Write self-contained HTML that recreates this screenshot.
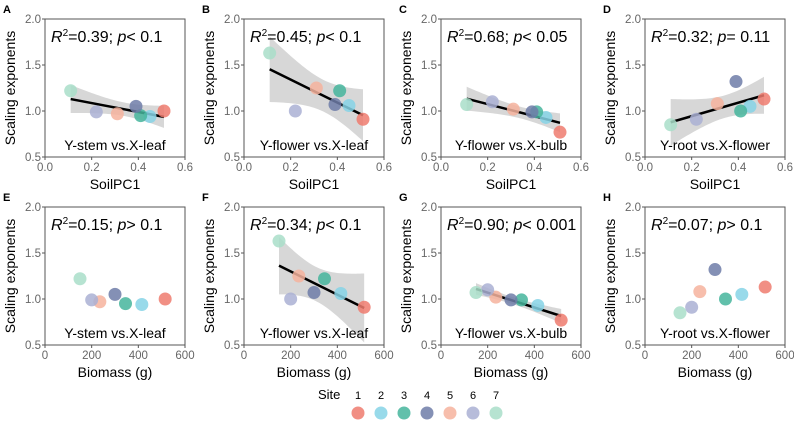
<!DOCTYPE html>
<html><head><meta charset="utf-8"><style>
body{margin:0;background:#fff;font-family:"Liberation Sans",Arial,sans-serif}
svg{display:block}
</style></head><body>
<svg id="c" width="794" height="422"></svg>
<script>
const sites=[1,2,3,4,5,6,7];
const siteColors=["#EE7B6E","#86D3E6","#45B59C","#6E7CA8","#F6B39E","#AAB0D3","#A9DEC9"];
const soilPC1=[0.51,0.45,0.41,0.39,0.31,0.22,0.11];
const biomass=[515,415,345,300,235,200,150];
const yStem=[1.0,0.94,0.95,1.05,0.97,0.99,1.22];
const yFlowerLeaf=[0.91,1.06,1.22,1.07,1.25,1.0,1.63];
const yFlowerBulb=[0.77,0.93,0.99,0.99,1.02,1.10,1.07];
const yRoot=[1.13,1.05,1.0,1.32,1.08,0.91,0.85];
const soilTicks=["0.0","0.2","0.4","0.6"];
const bioTicks=["0","200","400","600"];
const yTicks=["0.5","1.0","1.5","2.0"];
const panels=[
 {id:"A",col:0,row:0,xs:"soil",ys:yStem,stat:["0.39","p","< 0.1"],lab:"Y-stem vs.X-leaf",fit:true},
 {id:"B",col:1,row:0,xs:"soil",ys:yFlowerLeaf,stat:["0.45","p","< 0.1"],lab:"Y-flower vs.X-leaf",fit:true},
 {id:"C",col:2,row:0,xs:"soil",ys:yFlowerBulb,stat:["0.68","p","< 0.05"],lab:"Y-flower vs.X-bulb",fit:true},
 {id:"D",col:3,row:0,xs:"soil",ys:yRoot,stat:["0.32","p","= 0.11"],lab:"Y-root vs.X-flower",fit:true},
 {id:"E",col:0,row:1,xs:"bio",ys:yStem,stat:["0.15","p","> 0.1"],lab:"Y-stem vs.X-leaf",fit:false},
 {id:"F",col:1,row:1,xs:"bio",ys:yFlowerLeaf,stat:["0.34","p","< 0.1"],lab:"Y-flower vs.X-leaf",fit:true},
 {id:"G",col:2,row:1,xs:"bio",ys:yFlowerBulb,stat:["0.90","p","< 0.001"],lab:"Y-flower vs.X-bulb",fit:true},
 {id:"H",col:3,row:1,xs:"bio",ys:yRoot,stat:["0.07","p","> 0.1"],lab:"Y-root vs.X-flower",fit:false}
];
const colX=[45,244,441,645], rowY=[19,207], W=140, H=138;
const NS="http://www.w3.org/2000/svg";
const svg=document.getElementById("c");
function mk(t,a,p){const e=document.createElementNS(NS,t);for(const k in a)e.setAttribute(k,a[k]);(p||svg).appendChild(e);return e;}
panels.forEach(P=>{
 const x0=colX[P.col],y0=rowY[P.row];
 const g=mk("g",{});
 
 
 const xv=P.xs==="soil"?soilPC1:biomass;
 const xmax=P.xs==="soil"?0.6:600;
 const sx=v=>x0+v/xmax*W;
 const sy=v=>y0+H-(v-0.5)/1.5*H;
 const lt=mk("text",{x:colX[P.col]-42,y:y0-6,"font-size":11,"font-weight":"bold",fill:"#000"},g);lt.textContent=P.id;
 
 const fr=mk("rect",{x:x0,y:y0,width:W,height:H,fill:"#fff",stroke:"#555","stroke-width":1},g);
 
 yTicks.forEach(t=>{const v=parseFloat(t),y=sy(v);
  mk("line",{x1:x0-3,x2:x0,y1:y,y2:y,stroke:"#555"},g);
  const tx=mk("text",{x:x0-4,y:y+4,"font-size":11.5,fill:"#666","text-anchor":"end"},g);tx.textContent=t;
  });
 (P.xs==="soil"?soilTicks:bioTicks).forEach(t=>{const x=sx(parseFloat(t));
  mk("line",{x1:x,x2:x,y1:y0+H,y2:y0+H+3,stroke:"#555"},g);
  const tx=mk("text",{x:x,y:y0+H+14,"font-size":11.5,fill:"#666","text-anchor":"middle"},g);tx.textContent=t;
  });
 const yt=mk("text",{x:0,y:0,"font-size":14,fill:"#000","text-anchor":"middle",transform:`translate(${x0-30},${y0+H/2}) rotate(-90)`},g);yt.textContent="Scaling exponents";
 
 const xt=mk("text",{x:x0+W/2,y:y0+H+32,"font-size":14,fill:"#000","text-anchor":"middle"},g);xt.textContent=P.xs==="soil"?"SoilPC1":"Biomass (g)";
 
 if(P.fit){
  const n=xv.length,mx=xv.reduce((a,b)=>a+b)/n,my=P.ys.reduce((a,b)=>a+b)/n;
  let sxx=0,sxy=0;xv.forEach((x,i)=>{sxx+=(x-mx)**2;sxy+=(x-mx)*(P.ys[i]-my);});
  const b=sxy/sxx,a=my-b*mx;let sse=0;xv.forEach((x,i)=>{sse+=(P.ys[i]-a-b*x)**2;});
  const s=Math.sqrt(sse/(n-2)),tq=2.571;
  const lo=Math.min(...xv),hi=Math.max(...xv);const up=[],dn=[];
  for(let k=0;k<=40;k++){const x=lo+(hi-lo)*k/40,f=a+b*x,se=s*Math.sqrt(1/n+(x-mx)**2/sxx);
   up.push(sx(x)+","+sy(f+tq*se));dn.unshift(sx(x)+","+sy(f-tq*se));}
  const cp=mk("clipPath",{id:"cl"+P.id},g);mk("rect",{x:x0,y:y0,width:W,height:H},cp);
  const band=mk("polygon",{points:up.concat(dn).join(" "),fill:"#bdbdbd","fill-opacity":0.6,"clip-path":`url(#cl${P.id})`},g);
  
  const ln=mk("line",{x1:sx(lo),y1:sy(a+b*lo),x2:sx(hi),y2:sy(a+b*hi),stroke:"#000","stroke-width":2.5},g);
  
 }
 xv.forEach((x,i)=>{const c=mk("circle",{cx:sx(x),cy:sy(P.ys[i]),r:6.5,fill:siteColors[i],"fill-opacity":0.85},g);
  });
 const st=mk("text",{x:x0+6,y:y0+23,"font-size":16,fill:"#000"},g);
 st.innerHTML=`<tspan font-style="italic">R</tspan><tspan font-size="10" dy="-6">2</tspan><tspan dy="6">=${P.stat[0]}; </tspan><tspan font-style="italic">${P.stat[1]}</tspan><tspan>${P.stat[2]}</tspan>`;
 
 const bl=mk("text",{x:x0+W/2,y:y0+H-7,"font-size":14,fill:"#000","text-anchor":"middle"},g);bl.textContent=P.lab;
 
});
const lg=mk("g",{});

const ltt=mk("text",{x:318,y:399,"font-size":13,fill:"#000"},lg);ltt.textContent="Site";
sites.forEach((s,i)=>{const x=358+i*23;
 const t=mk("text",{x:x,y:399,"font-size":11,fill:"#000","text-anchor":"middle"},lg);t.textContent=s;
 const c=mk("circle",{cx:x,cy:413,r:6.5,fill:siteColors[i],"fill-opacity":0.85},lg);
 });
</script>
</body></html>
